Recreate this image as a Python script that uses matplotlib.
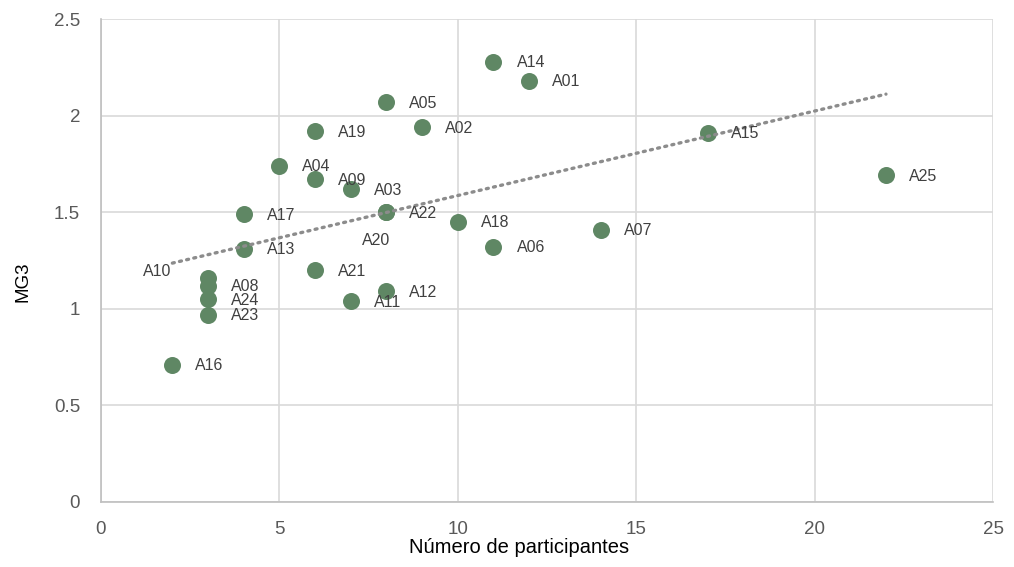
import numpy as np
import matplotlib
matplotlib.use('Agg')
import matplotlib.pyplot as plt

plt.rcParams['font.family'] = ['Liberation Sans', 'DejaVu Sans']

# participants per group and MG3 score
labels = ['A01', 'A02', 'A03', 'A04', 'A05', 'A06', 'A07', 'A08', 'A09', 'A10',
          'A11', 'A12', 'A13', 'A14', 'A15', 'A16', 'A17', 'A18', 'A19', 'A20',
          'A21', 'A22', 'A23', 'A24', 'A25']
participantes = [12, 9, 7, 5, 8, 11, 14, 3, 6, 3,
                 7, 8, 4, 11, 17, 2, 4, 10, 6, 8,
                 6, 8, 3, 3, 22]
mg3 = [2.18, 1.94, 1.62, 1.74, 2.07, 1.32, 1.41, 1.12, 1.67, 1.16,
       1.04, 1.09, 1.31, 2.28, 1.91, 0.71, 1.49, 1.45, 1.92, 1.50,
       1.20, 1.50, 0.97, 1.05, 1.69]

# labels that were dragged away from their point (pixel offsets)
moved = {'A10': (-65, 6), 'A20': (-24, -28)}

fig = plt.figure(figsize=(10.14, 5.67), dpi=100)
ax = fig.add_axes([101/1014, 65/567, 892/1014, 483/567])

ax.scatter(participantes, mg3, s=150, color='#5F8764', zorder=3, linewidths=0)

# linear trendline
m, b = np.polyfit(participantes, mg3, 1)
xs = np.array([min(participantes), max(participantes)])
ax.plot(xs, m * xs + b, color='#8C8C8C', lw=2.4, linestyle=(0, (0.6, 1.6)),
        dash_capstyle='round', zorder=4)

for lab, x, y in zip(labels, participantes, mg3):
    off = moved.get(lab, (23, -1))
    ax.annotate(lab, (x, y), xytext=off, textcoords='offset pixels',
                ha='left', va='center', fontsize=11.5, color='#404040', zorder=5)

ax.set_xlim(0, 25)
ax.set_ylim(0, 2.5)
ax.set_xticks([0, 5, 10, 15, 20, 25])
ax.set_yticks([0, 0.5, 1, 1.5, 2, 2.5])
ax.set_yticklabels(['0', '0.5', '1', '1.5', '2', '2.5'])
ax.grid(True, color='#D9D9D9', lw=1.2)
ax.set_axisbelow(True)
for s in ['top', 'right']:
    ax.spines[s].set_visible(False)
for s in ['left', 'bottom']:
    ax.spines[s].set_color('#BFBFBF')
    ax.spines[s].set_linewidth(1.2)
ax.tick_params(length=0, labelsize=13.5, labelcolor='#595959')
ax.tick_params(axis='y', pad=15)
ax.tick_params(axis='x', pad=14)

ax.set_xlabel('Número de participantes', fontsize=14.5, color='black')
ax.xaxis.set_label_coords(0.469, -0.075)
ax.set_ylabel('MG3', fontsize=13.5, color='black')
ax.yaxis.set_label_coords(-0.078, 0.455)

fig.savefig('out.png', dpi=100)
